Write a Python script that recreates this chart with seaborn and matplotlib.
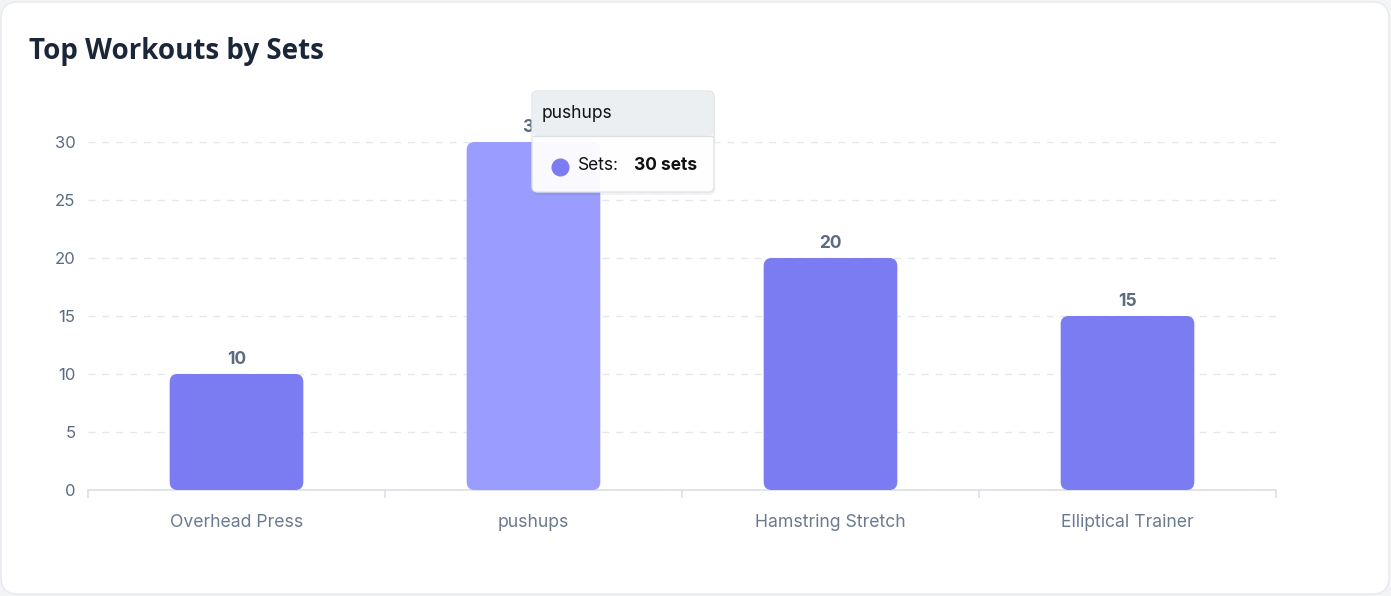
import numpy as np
import matplotlib.pyplot as plt
import seaborn as sns
from matplotlib.patches import FancyBboxPatch

# data
workouts = ["Overhead Press", "pushups", "Hamstring Stretch", "Elliptical Trainer"]
sets = [10, 30, 20, 15]
hovered = "pushups"
y_ticks = [0, 5, 10, 15, 20, 25, 30]

W, H = 1391, 596
base_color = "#7B7CF2"
hover_color = "#9A9CFE"

sns.set_theme(style="white")
plt.rcParams["font.family"] = ["Inter", "DejaVu Sans"]

fig = plt.figure(figsize=(W / 100, H / 100), dpi=100)
fig.patch.set_facecolor("#F3F4F6")


def fx(px):
    return px / W


def fy(py):
    return 1 - py / H


# card background
card = FancyBboxPatch((fx(1), fy(594)), fx(1388), 592 / H,
                      boxstyle="round,pad=0,rounding_size=0.012",
                      mutation_aspect=W / H,
                      transform=fig.transFigure, fc="white", ec="#E6E9EE", lw=1, zorder=-5)
fig.add_artist(card)

ax = fig.add_axes([fx(88), fy(490), fx(1276 - 88), (490 - 142) / H])
ax.set_facecolor("none")

colors = [hover_color if w == hovered else base_color for w in workouts]
sns.barplot(x=workouts, y=sets, hue=workouts, palette=colors, legend=False,
            width=0.45, saturation=1, ax=ax, zorder=3)

ax.set_xlim(-0.5, len(workouts) - 0.5)
ax.set_ylim(0, 30)

# rounded bars
px_x = (1276 - 88) / len(workouts)
px_y = (490 - 142) / 30
r_px = 8
for p in list(ax.patches):
    x0, w0, h0 = p.get_x(), p.get_width(), p.get_height()
    fc = p.get_facecolor()
    p.set_visible(False)
    rb = FancyBboxPatch((x0, 0), w0, h0,
                        boxstyle=f"round,pad=0,rounding_size={r_px / px_x}",
                        mutation_aspect=px_x / px_y, fc=fc, ec="none", zorder=3)
    ax.add_patch(rb)

# value labels
for i, v in enumerate(sets):
    ax.text(i, v + 0.55, str(v), ha="center", va="bottom", fontsize=12.5,
            fontweight="bold", color="#5B6B80", clip_on=False, zorder=4)

# grid and axes
ax.set_yticks(y_ticks)
ax.yaxis.grid(True, linestyle=(0, (5, 5)), color="#E3E8EF", lw=1, zorder=0)
ax.xaxis.grid(False)
for s in ["top", "right", "left"]:
    ax.spines[s].set_visible(False)
ax.spines["bottom"].set_color("#DCDFE4")
ax.spines["bottom"].set_linewidth(1.2)
ax.tick_params(axis="y", length=0, pad=9, labelsize=12, labelcolor="#5B6B80")
ax.tick_params(axis="x", which="major", length=0, pad=17, labelsize=12.7, labelcolor="#6B7A8F")
ax.set_xticks(np.arange(-0.5, len(workouts), 1), minor=True)
ax.tick_params(axis="x", which="minor", bottom=True, length=6, width=1.2, color="#DCDFE4")
ax.set_xlabel("")
ax.set_ylabel("")

# title
fig.text(fx(29), fy(52), "Top Workouts by Sets", fontsize=20, fontweight="bold",
         color="#1B2638", va="center", ha="left", family=["Open Sans", "DejaVu Sans"])

# tooltip
shadow = FancyBboxPatch((fx(533), fy(195)), fx(182), 102 / H,
                        boxstyle="round,pad=0,rounding_size=0.004", mutation_aspect=W / H,
                        transform=fig.transFigure, fc="#000000", alpha=0.05, ec="none", zorder=9)
fig.add_artist(shadow)
tip = FancyBboxPatch((fx(532), fy(192)), fx(182), 101 / H,
                     boxstyle="round,pad=0,rounding_size=0.004", mutation_aspect=W / H,
                     transform=fig.transFigure, fc="white", alpha=0.96, ec="#E0E3E7", lw=1, zorder=10)
fig.add_artist(tip)
head = FancyBboxPatch((fx(533), fy(136)), fx(180), 44 / H,
                      boxstyle="round,pad=0,rounding_size=0.003", mutation_aspect=W / H,
                      transform=fig.transFigure, fc="#ECEFF1", ec="none", zorder=11)
fig.add_artist(head)
fig.add_artist(plt.Line2D([fx(533), fx(713)], [fy(136), fy(136)], transform=fig.transFigure,
                          color="#DDE0E4", lw=1, zorder=12))
fig.text(fx(542), fy(114), hovered, fontsize=12.5, color="#111111", va="center", ha="left", zorder=12)
fig.add_artist(plt.Line2D([fx(560)], [fy(167)], marker="o", markersize=12, color=base_color,
                          transform=fig.transFigure, zorder=12))
hv = sets[workouts.index(hovered)]
fig.text(fx(578), fy(166), "Sets:", fontsize=12.5, color="#111111", va="center", ha="left", zorder=12)
fig.text(fx(634), fy(166), f"{hv} sets", fontsize=12.5, fontweight="bold", color="#111111",
         va="center", ha="left", zorder=12)

fig.savefig("out.png", dpi=100, facecolor=fig.get_facecolor())
